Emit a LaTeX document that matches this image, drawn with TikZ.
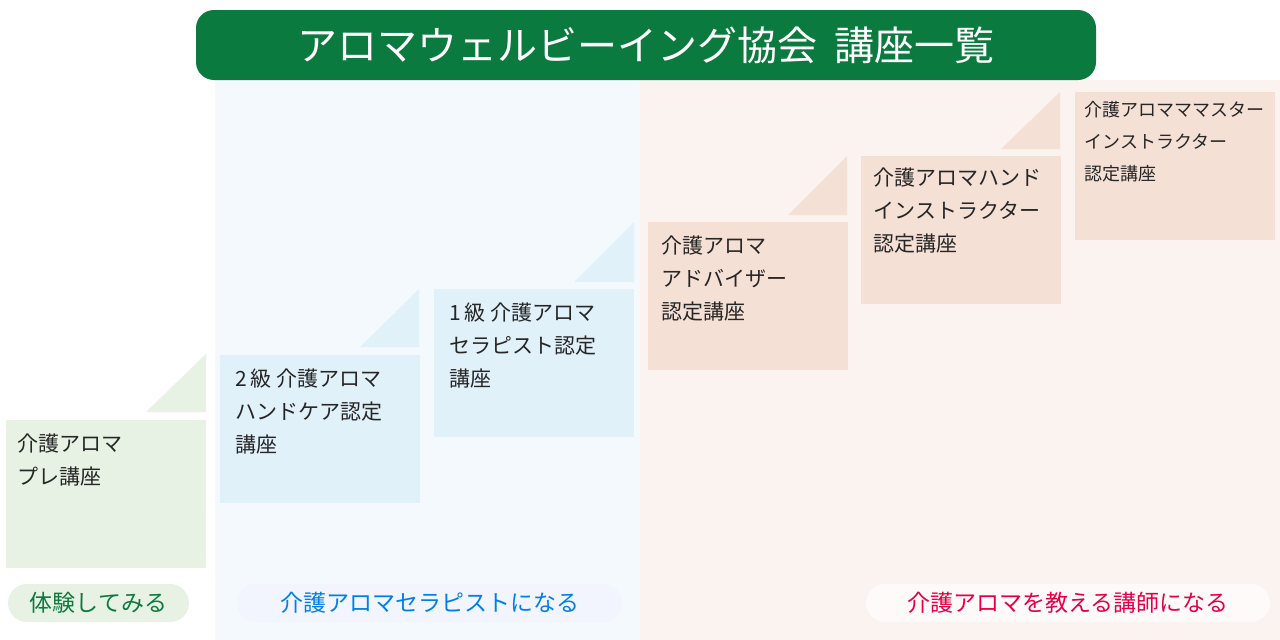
\documentclass[tikz,border=0pt]{standalone}
\usepackage{fontspec}
\setmainfont{Noto Sans CJK JP}
\begin{document}
\begin{tikzpicture}[x=1pt,y=-1pt,
 box/.style={anchor=north west,inner sep=0pt,minimum width=200pt,minimum height=148pt},
 txt/.style={anchor=north west,align=left,font=\fontsize{21}{33}\selectfont,text=black!85},
 pill/.style={rounded corners=19pt,inner sep=0pt,minimum height=38pt,font=\fontsize{23}{26}\selectfont}]
\definecolor{tgreen}{HTML}{0B7A3E}
\definecolor{gbox}{HTML}{E8F2E4}
\definecolor{bbox}{HTML}{E1F1FA}
\definecolor{pbox}{HTML}{F5E0D6}
\definecolor{bband}{HTML}{F4F9FD}
\definecolor{pband}{HTML}{FAF3F0}
\useasboundingbox (0,0) rectangle (1280,640);
\fill[white] (0,0) rectangle (1280,640);
\fill[bband] (215,80) rectangle (640,640);
\fill[pband] (640,80) rectangle (1280,640);
\node[fill=tgreen,rounded corners=18pt,minimum width=900pt,minimum height=70pt,text=white,font=\fontsize{40}{44}\selectfont] (title) at (646,45) {アロマウェルビーイング協会\ \ 講座一覧};
% steps
\node[box,fill=gbox] (g1) at (6,420) {};
\fill[gbox] (146,412) -- (206,412) -- (206,354) -- cycle;
\node[txt] (g1t) at (14,430) {介護アロマ\\プレ講座};
\node[box,fill=bbox] (b1) at (220,355) {};
\fill[bbox] (360,347) -- (419,347) -- (419,289) -- cycle;
\node[txt] (b1t) at (232,365) {2\,級 介護アロマ\\ハンドケア認定\\講座};
\node[box,fill=bbox] (b2) at (434,289) {};
\fill[bbox] (574,282) -- (634,282) -- (634,222) -- cycle;
\node[txt] (b2t) at (446,299) {1\,級 介護アロマ\\セラピスト認定\\講座};
\node[box,fill=pbox] (p1) at (648,222) {};
\fill[pbox] (788,215) -- (847,215) -- (847,156) -- cycle;
\node[txt] (p1t) at (658,232) {介護アロマ\\アドバイザー\\認定講座};
\node[box,fill=pbox] (p2) at (861,156) {};
\fill[pbox] (1001,149) -- (1060,149) -- (1060,92) -- cycle;
\node[txt] (p2t) at (870,164) {介護アロマハンド\\インストラクター\\認定講座};
\node[box,fill=pbox] (p3) at (1075,92) {};
\node[txt,font=\fontsize{18}{32}\selectfont] (p3t) at (1081,98) {介護アロマママスター\\インストラクター\\認定講座};
% labels
\node[pill,fill=gbox,text=tgreen,minimum width=181pt] (l1) at (98.5,603) {体験してみる};
\node[pill,fill=bbox!85!blue!20,text=black!20!blue!50!cyan,minimum width=385pt] (l2) at (429.5,603) {介護アロマセラピストになる};
\node[pill,fill=pbox!90!red!10,text=red!70!magenta!90!black,minimum width=404pt] (l3) at (1068,603) {介護アロマを教える講師になる};
\end{tikzpicture}
\end{document}
